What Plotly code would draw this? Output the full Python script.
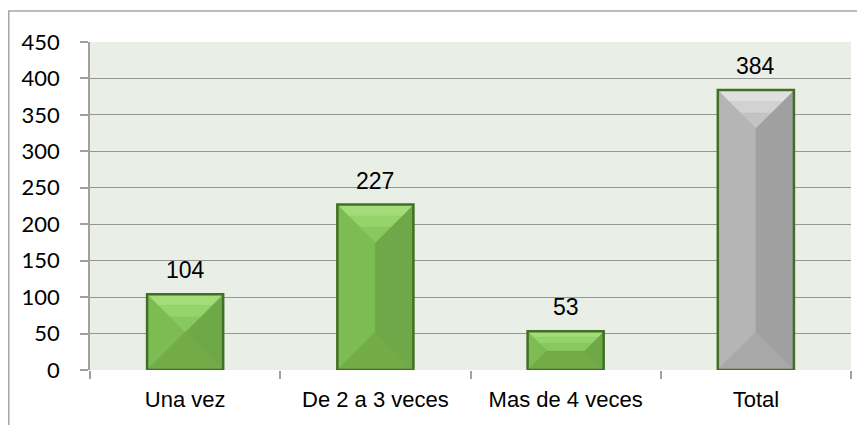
import plotly.graph_objects as go

categories = ["Una vez", "De 2 a 3 veces", "Mas de 4 veces", "Total"]
values = [104, 227, 53, 384]
bar_kind = ["green", "green", "green", "gray"]
y_ticks = [0, 50, 100, 150, 200, 250, 300, 350, 400, 450]

W, H = 865, 425
M = dict(l=82, r=22, t=34, b=63)
plot_w = W - M["l"] - M["r"]
plot_h = H - M["t"] - M["b"]
x_min, x_max = -0.5, len(categories) - 0.5
y_min, y_max = 0, 450
px_x = plot_w / (x_max - x_min)
px_y = plot_h / (y_max - y_min)
bar_w = 0.4

face_colors = {
    "green": dict(base="#76b14c", top_out="#a3dc78", top_mid="#95d36b", top_in="#88c95f",
                  left="#7cbc53", right="#6ea849", bottom="#72ab48"),
    "gray": dict(base="#ababab", top_out="#e0e0e0", top_mid="#d2d2d2", top_in="#c3c3c3",
                 left="#b5b5b5", right="#a0a0a0", bottom="#a8a8a8"),
}
outline = "#426f25"

positions = list(range(len(categories)))
fig = go.Figure()

fig.add_trace(go.Bar(
    x=positions, y=values, width=bar_w,
    marker=dict(color=[face_colors[k]["base"] for k in bar_kind], line=dict(width=0)),
    hoverinfo="skip", showlegend=False,
))

ox, oy = [], []
for c, v, k in zip(positions, values, bar_kind):
    fc = face_colors[k]
    x0, x1 = c - bar_w / 2, c + bar_w / 2
    hw_px = (bar_w / 2) * px_x
    h_px = v * px_y
    d = min(hw_px, h_px / 2)
    dx, dy = d / px_x, d / px_y
    faces = [
        ("left", [x0, x0, x0 + dx, x0 + dx], [0, v, v - dy, dy]),
        ("right", [x1, x1, x1 - dx, x1 - dx], [0, v, v - dy, dy]),
        ("bottom", [x0, x1, x1 - dx, x0 + dx], [0, 0, dy, dy]),
    ]
    bands = [("top_out", 0.0, 0.3), ("top_mid", 0.3, 0.6), ("top_in", 0.6, 1.0)]
    for name, a, b in bands:
        faces.append((name,
                      [x0 + dx * a, x1 - dx * a, x1 - dx * b, x0 + dx * b],
                      [v - dy * a, v - dy * a, v - dy * b, v - dy * b]))
    for name, xs, ys in faces:
        fig.add_trace(go.Scatter(
            x=xs, y=ys, fill="toself", mode="lines",
            line=dict(width=0.5, color=fc[name]), fillcolor=fc[name],
            hoverinfo="skip", showlegend=False,
        ))
    ox += [x0, x0, x1, x1, x0, None]
    oy += [0, v, v, 0, 0, None]

fig.add_trace(go.Scatter(
    x=ox, y=oy, mode="lines", line=dict(width=2.5, color=outline),
    hoverinfo="skip", showlegend=False,
))

for c, v in zip(positions, values):
    fig.add_annotation(
        x=c, y=v, text=str(v), showarrow=False, yanchor="bottom", yshift=9,
        font=dict(family="Liberation Sans, Arial", size=23, color="#000000"),
    )

fig.add_shape(
    type="rect", xref="paper", yref="paper",
    x0=(0.75 - M["l"]) / plot_w, x1=1.1,
    y0=-0.4, y1=(H - M["b"] - 3) / plot_h,
    line=dict(color="#a6a6a6", width=1.5), fillcolor="rgba(0,0,0,0)", layer="below",
)

fig.update_layout(
    width=W, height=H, margin=M,
    paper_bgcolor="#ffffff", plot_bgcolor="#e9eee7",
    barmode="overlay", showlegend=False,
    xaxis=dict(
        range=[x_min, x_max], tickmode="array", tickvals=positions, ticktext=categories,
        ticks="", showgrid=False, zeroline=False, showline=False,
        tickfont=dict(family="Liberation Sans, Arial", size=22, color="#000000"),
        ticklabelstandoff=14,
        minor=dict(tickmode="array", tickvals=[p - 0.5 for p in positions] + [positions[-1] + 0.5],
                   ticks="outside", ticklen=8, tickcolor="#a0a0a0", tickwidth=1.5, showgrid=False),
        fixedrange=True,
    ),
    yaxis=dict(
        range=[y_min, y_max], tickmode="array", tickvals=y_ticks,
        ticks="outside", ticklen=8, tickcolor="#a0a0a0", tickwidth=1.5,
        showline=True, linecolor="#a0a0a0", linewidth=1.5,
        showgrid=True, gridcolor="#959595", gridwidth=1.2, zeroline=False,
        tickfont=dict(family="Lato, Open Sans, sans-serif", size=22, color="#000000"),
        ticklabelstandoff=16,
        fixedrange=True,
    ),
)

fig.write_html("out.html")
